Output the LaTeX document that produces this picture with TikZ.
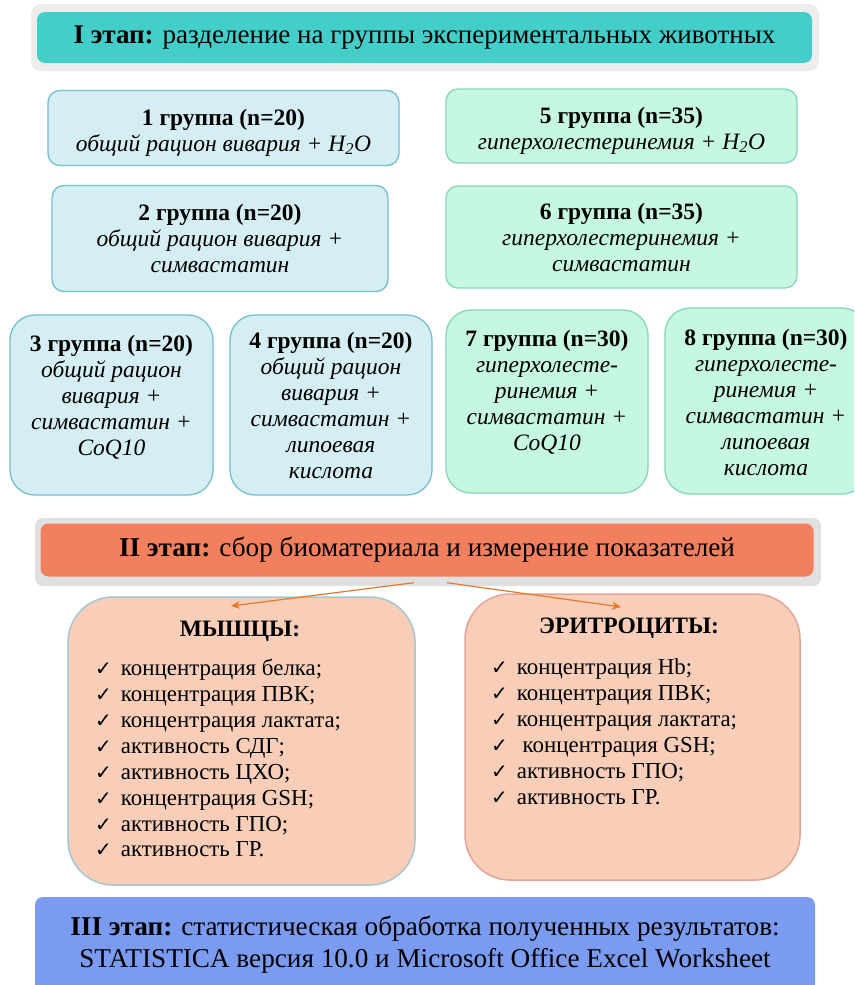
\documentclass[tikz,border=0pt]{standalone}
\usepackage{fontspec}
\setmainfont{Liberation Serif}
\newfontfamily\chkfont{DejaVu Sans}
\usetikzlibrary{positioning,arrows.meta}
\definecolor{tealhead}{HTML}{43CECA}
\definecolor{bluefill}{HTML}{D5EEF3}
\definecolor{blueline}{HTML}{74BFCC}
\definecolor{mintfill}{HTML}{C5F7E1}
\definecolor{mintline}{HTML}{86D6BA}
\definecolor{salmonhead}{HTML}{F2805F}
\definecolor{peachfill}{HTML}{F8CEB9}
\definecolor{musline}{HTML}{A3C8D2}
\definecolor{eryline}{HTML}{E2A597}
\definecolor{bluehead}{HTML}{7B9BF0}
\definecolor{arrorange}{HTML}{E8782A}
\newcommand{\chk}{{\chkfont\fontsize{20}{20}\selectfont ✓}\hspace{9pt}}
\newcommand{\water}{H\smash{\textsubscript{2}}O}
\newcommand{\dropline}{\rule{0pt}{25pt}}
\begin{document}
\begin{tikzpicture}[x=1pt,y=-1pt]
\tikzstyle{every node}=[font=\fontsize{23.5}{26}\selectfont, inner sep=0pt]
\tikzstyle{stage}=[rounded corners=8pt, align=center]
\tikzstyle{grpblue}=[draw=blueline, fill=bluefill, line width=1.3pt, align=center]
\tikzstyle{grpmint}=[draw=mintline, fill=mintfill, line width=1.3pt, align=center]
\tikzstyle{organ}=[fill=peachfill, line width=1.5pt, rounded corners=45pt]
\tikzstyle{toorgan}=[arrorange, line width=1.2pt, -{Stealth[length=9pt,width=8pt]}]
\clip (0,0) rectangle (854,985);
\fill[white] (0,0) rectangle (854,985);
% I stage
\fill[black!7, rounded corners=10pt] (31,4) rectangle (819,71);
\node[stage, fill=tealhead, minimum width=775pt, minimum height=51pt, font=\fontsize{27}{28}\selectfont] (stage1) at (424.5,37.5) {\textbf{I этап:} разделение на группы экспериментальных животных};
% groups
\node[grpblue, rounded corners=12pt, minimum width=351pt, minimum height=75pt] (g1) at (223.5,128) {\dropline\textbf{1 группа (n=20)}\\ \textit{общий рацион вивария + \water}};
\node[grpmint, rounded corners=12pt, minimum width=351pt, minimum height=74pt] (g5) at (621.5,126) {\dropline\textbf{5 группа (n=35)}\\ \textit{гиперхолестеринемия + \water}};
\node[grpblue, rounded corners=12pt, minimum width=336pt, minimum height=106pt] (g2) at (220,238.5) {\textbf{2 группа (n=20)}\\ \textit{общий рацион вивария +}\\ \textit{симвастатин}};
\node[grpmint, rounded corners=12pt, minimum width=351pt, minimum height=102pt] (g6) at (621.5,237) {\textbf{6 группа (n=35)}\\ \textit{гиперхолестеринемия +}\\ \textit{симвастатин}};
\node[grpblue, rounded corners=25pt, minimum width=203pt, minimum height=180pt] (g3) at (111.5,405) {\parbox[c][140pt][t]{200pt}{\centering\textbf{3 группа (n=20)}\\ \textit{общий рацион}\\ \textit{вивария +}\\ \textit{симвастатин +}\\ \textit{CoQ10}}};
\node[grpblue, rounded corners=25pt, minimum width=202pt, minimum height=180pt] (g4) at (331,405) {\parbox[c][146pt][t]{200pt}{\centering\textbf{4 группа (n=20)}\\ \textit{общий рацион}\\ \textit{вивария +}\\ \textit{симвастатин +}\\ \textit{липоевая}\\ \textit{кислота}}};
\node[grpmint, rounded corners=25pt, minimum width=202pt, minimum height=183pt] (g7) at (547,401.5) {\parbox[c][143pt][t]{200pt}{\centering\textbf{7 группа (n=30)}\\ \textit{гиперхолесте-}\\ \textit{ринемия +}\\ \textit{симвастатин +}\\ \textit{CoQ10}}};
\node[grpmint, rounded corners=25pt, minimum width=202pt, minimum height=186pt] (g8) at (766,401) {\parbox[c][144pt][t]{200pt}{\centering\textbf{8 группа (n=30)}\\ \textit{гиперхолесте-}\\ \textit{ринемия +}\\ \textit{симвастатин +}\\ \textit{липоевая}\\ \textit{кислота}}};
% II stage
\fill[black!12, rounded corners=8pt] (35,518) rectangle (821,586);
\node[stage, fill=salmonhead, minimum width=773pt, minimum height=53pt, font=\fontsize{27.2}{28}\selectfont] (stage2) at (427,550) {\textbf{II этап:} сбор биоматериала и измерение показателей};
\node[organ, draw=musline, minimum width=347pt, minimum height=288pt] (mus) at (241.5,741) {};
\node[organ, draw=eryline, minimum width=335pt, minimum height=286pt] (ery) at (632.5,737) {};
\coordinate (musin) at (231,606);
\coordinate (eryin) at (621,607);
\draw[toorgan] ([xshift=-13pt,yshift=-6pt]stage2.south) -- (musin);
\draw[toorgan] ([xshift=20pt,yshift=-6pt]stage2.south) -- (eryin);
\node (mustitle) at (240,631) {\textbf{МЫШЦЫ:}};
\node (erytitle) at (629,628) {\textbf{ЭРИТРОЦИТЫ:}};
\node[align=left, anchor=north west, font=\fontsize{22.9}{25.9}\selectfont] (muslist) at (95,659) {\chk концентрация белка;\\ \chk концентрация ПВК;\\ \chk концентрация лактата;\\ \chk активность СДГ;\\ \chk активность ЦХО;\\ \chk концентрация GSH;\\ \chk активность ГПО;\\ \chk активность ГР.};
\node[align=left, anchor=north west, font=\fontsize{22.9}{26}\selectfont] (erylist) at (491,658) {\chk концентрация Hb;\\ \chk концентрация ПВК;\\ \chk концентрация лактата;\\ \chk\ концентрация GSH;\\ \chk активность ГПО;\\ \chk активность ГР.};
% III stage
\node[stage, fill=bluehead, minimum width=780pt, minimum height=96pt, font=\fontsize{27.2}{32}\selectfont] (stage3) at (425,945) {\textbf{III этап:} статистическая обработка полученных результатов:\\ STATISTICA версия 10.0 и Microsoft Office Excel Worksheet};
\end{tikzpicture}
\end{document}
